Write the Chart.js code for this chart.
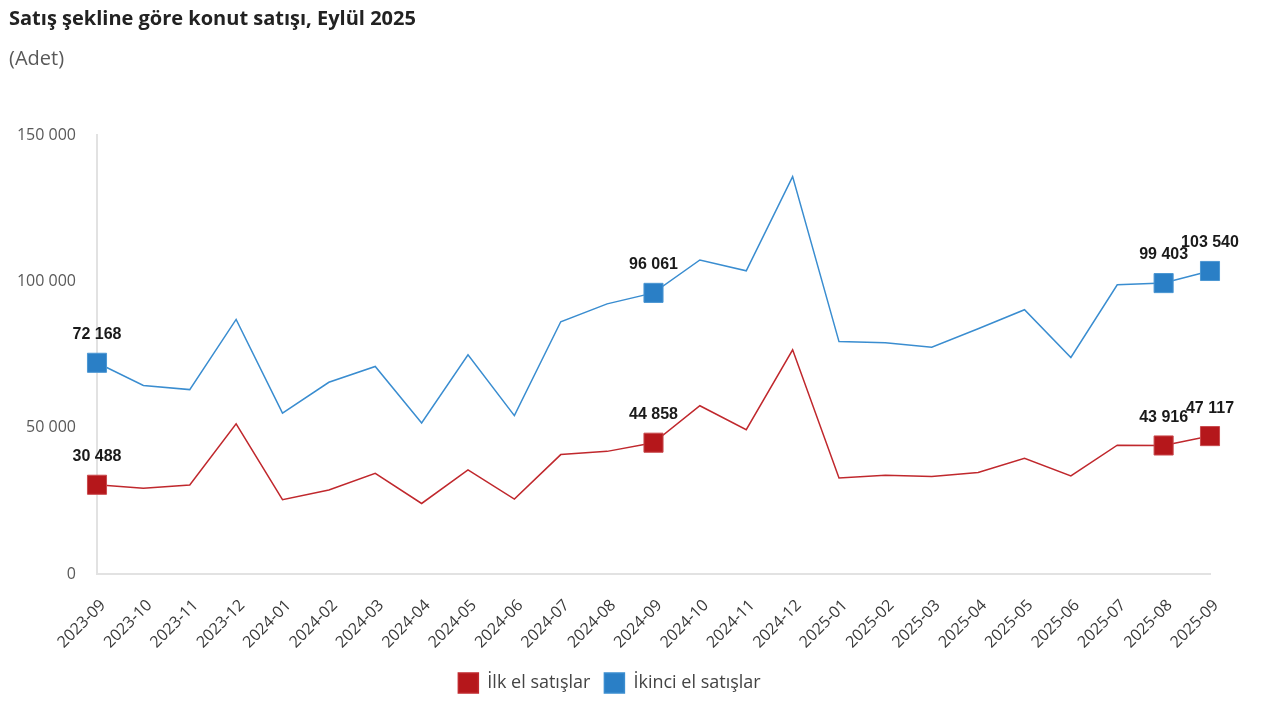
<!DOCTYPE html>
<html lang="tr">
<head>
<meta charset="utf-8">
<title>Satış şekline göre konut satışı</title>
<script src="https://cdn.jsdelivr.net/npm/chart.js@4"></script>
<style>
  html, body { margin: 0; padding: 0; background: #fff; }
  #kutu { width: 1280px; height: 719px; }
</style>
</head>
<body>
<div id="kutu"><canvas id="grafik"></canvas></div>
<script>
// Aylar
const aylar = ['2023-09', '2023-10', '2023-11', '2023-12', '2024-01', '2024-02', '2024-03',
    '2024-04', '2024-05', '2024-06', '2024-07', '2024-08', '2024-09', '2024-10', '2024-11',
    '2024-12', '2025-01', '2025-02', '2025-03', '2025-04', '2025-05', '2025-06', '2025-07',
    '2025-08', '2025-09'];

// Satış adetleri
const ilkEl = [30488, 29300, 30400, 51300, 25400, 28700, 34400, 24100, 35600, 25600, 40800,
    41900, 44858, 57500, 49300, 76600, 32800, 33700, 33300, 34700, 39500, 33500, 44000,
    43916, 47117];
const ikinciEl = [72168, 64400, 63000, 87000, 55000, 65500, 70900, 51600, 74900, 54100, 86200,
    92300, 96061, 107300, 103600, 135800, 79400, 79000, 77500, 83800, 90300, 74000, 98800,
    99403, 103540];

// Etiket gösterilen noktalar
const etiketli = [0, 12, 23, 24];
const yEksen = [0, 50000, 100000, 150000];

const binlik = v => String(v).replace(/\B(?=(\d{3})+(?!\d))/g, ' ');

// Nokta etiketleri
const etiketEklentisi = {
    id: 'etiketler',
    afterDatasetsDraw(chart) {
        const c = chart.ctx;
        c.save();
        c.font = 'bold 16px "Liberation Sans", Arial, sans-serif';
        c.fillStyle = '#1a1a1a';
        c.textAlign = 'center';
        c.textBaseline = 'middle';
        chart.data.datasets.forEach((ds, i) => {
            const meta = chart.getDatasetMeta(i);
            etiketli.forEach(j => {
                const p = meta.data[j];
                c.fillText(binlik(ds.data[j]), p.x, p.y - 28);
            });
        });
        c.restore();
    }
};

const noktaBoyu = ctx => etiketli.includes(ctx.dataIndex) ? 13.5 : 0;

const ctx = document.getElementById('grafik').getContext('2d');
const grafik = new Chart(ctx, {
    type: 'line',
    data: {
        labels: aylar,
        datasets: [{
            label: 'İlk el satışlar',
            data: ilkEl,
            borderColor: '#c0282d',
            backgroundColor: '#b5171b',
            borderWidth: 1.5,
            pointStyle: 'rect',
            pointRadius: noktaBoyu,
            pointBorderColor: '#c94a4d',
            pointBorderWidth: 1,
            tension: 0
        }, {
            label: 'İkinci el satışlar',
            data: ikinciEl,
            borderColor: '#3a8dd0',
            backgroundColor: '#2a7fc6',
            borderWidth: 1.5,
            pointStyle: 'rect',
            pointRadius: noktaBoyu,
            pointBorderColor: '#4c97d3',
            pointBorderWidth: 1,
            tension: 0
        }]
    },
    options: {
        responsive: true,
        maintainAspectRatio: false,
        animation: false,
        devicePixelRatio: 1,
        events: [],
        layout: { padding: { left: 9, right: 70, bottom: 16 } },
        plugins: {
            title: {
                display: true,
                text: 'Satış şekline göre konut satışı, Eylül 2025',
                align: 'start',
                color: '#222',
                font: { family: '"Open Sans", sans-serif', size: 20, weight: 'bold' },
                padding: { top: 7, bottom: 0 }
            },
            subtitle: {
                display: true,
                text: '(Adet)',
                align: 'start',
                color: '#595959',
                font: { family: '"Open Sans", sans-serif', size: 20 },
                padding: { top: 16, bottom: 64 }
            },
            legend: {
                position: 'bottom',
                labels: {
                    boxWidth: 20,
                    boxHeight: 20,
                    color: '#444',
                    font: { family: '"Open Sans", sans-serif', size: 18 },
                    padding: 14
                }
            },
            tooltip: { enabled: false }
        },
        scales: {
            x: {
                offset: false,
                afterFit(s) { s.height = 85; },
                grid: { display: false },
                border: { color: '#e2e2e2', width: 2 },
                ticks: {
                    color: '#3a3a3a',
                    font: { family: '"Open Sans", sans-serif', size: 16 },
                    maxRotation: 45,
                    minRotation: 45,
                    autoSkip: false,
                    padding: 14,
                    labelOffset: 6
                }
            },
            y: {
                min: 0,
                max: 150000,
                afterFit(s) { s.width = 88; },
                afterBuildTicks(s) { s.ticks = yEksen.map(v => ({ value: v })); },
                grid: { display: false, drawTicks: false },
                border: { color: '#e2e2e2', width: 2 },
                ticks: {
                    color: '#595959',
                    font: { family: '"Open Sans", sans-serif', size: 16 },
                    padding: 21,
                    callback: v => binlik(v)
                }
            }
        }
    },
    plugins: [etiketEklentisi]
});
</script>
</body>
</html>
